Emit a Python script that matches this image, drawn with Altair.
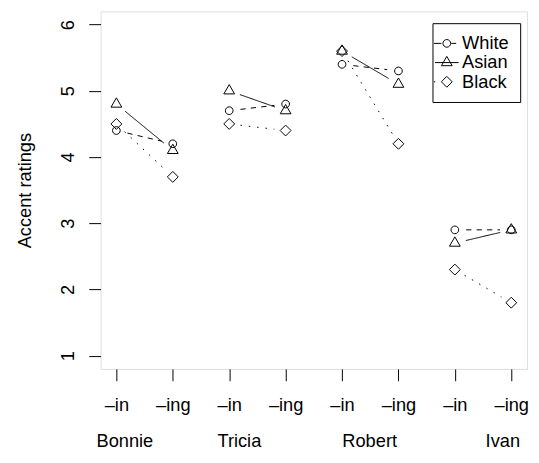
import json
import math
import pandas as pd
import altair as alt

# ---- data ----
speakers = ["Bonnie", "Tricia", "Robert", "Ivan"]
groups = ["White", "Asian", "Black"]
white_in = [4.4, 4.7, 5.4, 2.9]
white_ing = [4.2, 4.8, 5.3, 2.9]
asian_in = [4.8, 5.0, 5.6, 2.7]
asian_ing = [4.1, 4.7, 5.1, 2.9]
black_in = [4.5, 4.5, 5.6, 2.3]
black_ing = [3.7, 4.4, 4.2, 1.8]
tick_labels = ["–in", "–ing", "–in", "–ing", "–in", "–ing", "–in", "–ing"]
x_ticks = [1, 2, 3, 4, 5, 6, 7, 8]
y_ticks = [1, 2, 3, 4, 5, 6]
speaker_label_at = [1.15, 3.18, 5.49, 7.85]

# ---- layout ----
W, H = 433, 363
XD = [0.72, 8.28]
YD = [0.8, 6.2]
kx = W / (XD[1] - XD[0])
ky = H / (YD[1] - YD[0])
GAP = 11.5  # px gap between point and connecting line (type="b")
FONT = "Liberation Sans"
FS = 18.5

series = {"White": (white_in, white_ing),
          "Asian": (asian_in, asian_ing),
          "Black": (black_in, black_ing)}

pt_rows, seg_rows = [], []
for g in groups:
    vin, ving = series[g]
    for i, s in enumerate(speakers):
        xa, xb = 2 * i + 1, 2 * i + 2
        ya, yb = vin[i], ving[i]
        pt_rows.append(dict(group=g, speaker=s, x=xa, value=ya))
        pt_rows.append(dict(group=g, speaker=s, x=xb, value=yb))
        L = math.hypot((xb - xa) * kx, (yb - ya) * ky)
        f = GAP / L
        seg_rows.append(dict(group=g, x1=xa + (xb - xa) * f, x2=xb - (xb - xa) * f,
                             y1=ya + (yb - ya) * f, y2=yb - (yb - ya) * f))
pts = pd.DataFrame(pt_rows)
segs = pd.DataFrame(seg_rows)
names = pd.DataFrame({"name": speakers, "x": speaker_label_at})
leg = pd.DataFrame({"group": groups})

xs = alt.Scale(domain=XD, nice=False, zero=False)
ys = alt.Scale(domain=YD, nice=False, zero=False)

xaxis = alt.Axis(values=x_ticks, labelExpr=json.dumps(tick_labels, ensure_ascii=False) + "[datum.value-1]",
                 title=None, grid=False, domain=False, tickSize=12, tickColor="black", tickWidth=1,
                 labelFont=FONT, labelFontSize=FS, labelColor="black", labelPadding=30,
                 labelBaseline="alphabetic", labelAlign="center", labelFlush=False, labelOverlap=False)
yaxis = alt.Axis(values=y_ticks, title="Accent ratings", grid=False, domain=False, tickSize=12,
                 tickColor="black", tickWidth=1, labelFont=FONT, labelFontSize=FS, labelColor="black",
                 labelAngle=270, labelAlign="center", labelBaseline="alphabetic", labelPadding=15,
                 labelFlush=False, labelOverlap=False,
                 titleFont=FONT, titleFontSize=FS, titleFontWeight="normal", titleColor="black",
                 titleAngle=270, titleX=-71, titleY=H / 2, titleAlign="center", titleBaseline="alphabetic")

plot_shapes = [
    "M0.65,0A0.65,0.65,0,1,1,-0.65,0A0.65,0.65,0,1,1,0.65,0Z",
    "M0,-1.05L0.91,0.525L-0.91,0.525Z",
    "M0,-0.92L0.92,0L0,0.92L-0.92,0Z",
]
legend_shapes = [
    "M0.433,0A0.433,0.433,0,1,1,-0.433,0A0.433,0.433,0,1,1,0.433,0ZM-1.44,0L-0.61,0M0.5,0L1.06,0",
    "M0,-0.7L0.605,0.35L-0.605,0.35ZM-1.333,0L1.333,0",
    "M0,-0.611L0.611,0L0,0.611L-0.611,0ZM-1.44,0L-1.3,0",
]
dashes = [[5.3, 5.3], [1, 0], [1.5, 7]]

lines = alt.Chart(segs).mark_rule(color="black", strokeWidth=1).encode(
    x=alt.X("x1:Q", scale=xs, axis=xaxis),
    y=alt.Y("y1:Q", scale=ys, axis=yaxis),
    x2="x2:Q",
    y2="y2:Q",
    strokeDash=alt.StrokeDash("group:N", scale=alt.Scale(domain=groups, range=dashes), legend=None),
)

points = alt.Chart(pts).mark_point(filled=False, color="black", strokeWidth=1, size=144, opacity=1).encode(
    x=alt.X("x:Q", scale=xs, axis=xaxis),
    y=alt.Y("value:Q", scale=ys, axis=yaxis),
    shape=alt.Shape("group:N", scale=alt.Scale(domain=groups, range=plot_shapes), legend=None),
)

legend_layer = alt.Chart(leg).transform_filter("false").mark_point(
    filled=False, color="black", strokeWidth=1, opacity=1).encode(
    shape=alt.Shape("group:N", scale=alt.Scale(domain=groups, range=legend_shapes),
                    legend=alt.Legend(title=None, orient="none", legendX=337, legendY=12,
                                      strokeColor="black", fillColor="white", padding=11,
                                      symbolSize=324, symbolStrokeColor="black", symbolStrokeWidth=1,
                                      symbolFillColor="transparent", symbolOffset=-6, labelOffset=6,
                                      labelFont=FONT, labelFontSize=FS, labelColor="black",
                                      rowPadding=0.5, cornerRadius=0)),
)

texts = alt.Chart(names).mark_text(font=FONT, fontSize=FS, color="black", align="center",
                                   baseline="alphabetic").encode(
    x=alt.X("x:Q", scale=xs, axis=xaxis),
    y=alt.value(442.5),
    text="name:N",
)

chart = alt.layer(lines, points, legend_layer, texts).resolve_scale(shape="independent").properties(
    width=W, height=H,
    padding={"left": 94, "top": 0, "right": 4, "bottom": 84},
    autosize=alt.AutoSizeParams(type="none"),
).configure_view(stroke="black", strokeWidth=1).configure(font=FONT)

chart.save("out.html", embed_options={"renderer": "svg", "actions": False})
